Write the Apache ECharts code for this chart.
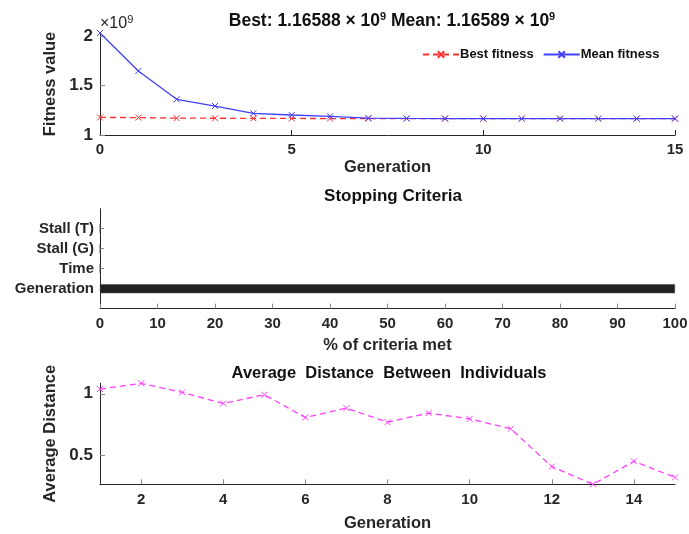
<!DOCTYPE html>
<html>
<head>
<meta charset="utf-8">
<script src="https://cdn.jsdelivr.net/npm/echarts@6/dist/echarts.min.js"></script>
<style>html,body{margin:0;padding:0;background:#fff;}#c{width:689px;height:534px;}</style>
</head>
<body>
<div id="c"></div>
<script>
// ---- data ----
// Top plot: fitness values in units of 1e9
const generations = [0,1,2,3,4,5,6,7,8,9,10,11,12,13,14,15];
const bestFitness = [1.178,1.177,1.171,1.170,1.169,1.168,1.167,1.166,1.166,1.166,1.16588,1.16588,1.16588,1.16588,1.16588,1.16588];
const meanFitness = [2.035,1.649,1.362,1.294,1.220,1.203,1.190,1.172,1.168,1.167,1.166,1.16589,1.16589,1.16589,1.16589,1.16589];
const topYTicks = [1, 1.5, 2];
// Middle plot
const criteria = ['', 'Generation', 'Time', 'Stall (G)', 'Stall (T)', ''];
const criteriaMet = [null, 100, 0, 0, 0, null];
// Bottom plot
const distGenerations = [1,2,3,4,5,6,7,8,9,10,11,12,13,14,15];
const avgDistance = [1.038,1.085,1.011,0.921,0.992,0.807,0.883,0.769,0.843,0.796,0.715,0.408,0.264,0.451,0.320];
const bottomXTicks = [2,4,6,8,10,12,14];
const bottomYTicks = [0.5, 1];

const FONT = 'Liberation Sans';
const AX = '#262626';
const xSym = 'path://M0,0L10,10M10,0L0,10';

function axisBase(extra){
  return Object.assign({
    axisLine:{show:true, lineStyle:{color:AX, width:1}},
    axisTick:{show:true, inside:true, length:5, lineStyle:{color:AX}},
    splitLine:{show:false},
    axisLabel:{color:'#262626', fontFamily:FONT, fontWeight:'bold', fontSize:15},
    nameTextStyle:{color:'#262626', fontFamily:FONT, fontWeight:'bold', fontSize:16.5}
  }, extra);
}
function lbl(extra){ return Object.assign({color:'#262626', fontFamily:FONT, fontWeight:'bold', fontSize:15}, extra); }

const chart = echarts.init(document.getElementById('c'), null, {renderer:'canvas'});
const option = {
  animation:false,
  backgroundColor:'#fff',
  title:[
    {text:'{b|Best: 1.16588 × 10}{s|9}{b| Mean: 1.16589 × 10}{s|9}', left:387, top:6, textAlign:'center',
     textStyle:{rich:{b:{fontFamily:FONT,fontWeight:'bold',fontSize:17.5,color:'#111'}, s:{fontFamily:FONT,fontWeight:'bold',fontSize:11,color:'#111',verticalAlign:'top',padding:[0,0,9,0]}}}},
    {text:'Stopping Criteria', left:388, top:183, textAlign:'center', textStyle:{fontFamily:FONT,fontWeight:'bold',fontSize:17,color:'#111'}},
    {text:'Average  Distance  Between  Individuals', left:384, top:360, textAlign:'center', textStyle:{fontFamily:FONT,fontWeight:'bold',fontSize:16.5,color:'#111'}}
  ],
  graphic:[
    {type:'text', left:100, top:14, style:{text:'{a|×10}{s|9}', rich:{a:{fontFamily:FONT,fontSize:16,fill:'#262626'}, s:{fontFamily:FONT,fontSize:11,fill:'#262626',verticalAlign:'top',padding:[0,0,9,0]}}}}
  ],
  legend:{
    data:['Best fitness','Mean fitness'], left:417, top:43, itemWidth:36, itemHeight:8, itemGap:9,
    textStyle:{fontFamily:FONT, fontWeight:'bold', fontSize:13, color:'#111', padding:[0,0,0,-4]}
  },
  grid:[
    {left:100, top:33, width:575, height:102, outerBoundsMode:'none', containLabel:false},
    {left:100, top:208.7, width:575, height:100, outerBoundsMode:'none', containLabel:false},
    {left:100, top:383.3, width:575, height:101, outerBoundsMode:'none', containLabel:false}
  ],
  xAxis:[
    axisBase({gridIndex:0, type:'value', min:0, max:15, interval:5, name:'Generation', nameLocation:'middle', nameGap:24,
      axisLabel:lbl({margin:7})}),
    axisBase({gridIndex:1, type:'value', min:0, max:100, interval:10, name:'% of criteria met', nameLocation:'middle', nameGap:28,
      axisLabel:lbl({margin:8}),
      axisTick:{show:true, inside:true, length:5, lineStyle:{color:'#888'}}}),
    axisBase({gridIndex:2, type:'value', min:1, max:15, name:'Generation', nameLocation:'middle', nameGap:31,
      axisLabel:lbl({margin:8, customValues:bottomXTicks}),
      axisTick:{show:true, inside:true, length:5, lineStyle:{color:'#888'}, customValues:bottomXTicks}})
  ],
  yAxis:[
    axisBase({gridIndex:0, type:'value', min:1, max:2.035, name:'Fitness value', nameLocation:'middle', nameGap:33,
      axisLabel:lbl({fontSize:17, margin:7, customValues:topYTicks}),
      axisTick:{show:true, inside:true, length:5, lineStyle:{color:'#888'}, customValues:topYTicks}}),
    axisBase({gridIndex:1, type:'category', data:criteria, boundaryGap:false,
      axisLabel:lbl({fontSize:15, margin:6, interval:0}),
      axisTick:{show:true, inside:true, length:4, lineStyle:{color:'#888'}, interval:function(i){return i>=1 && i<=4;}}}),
    axisBase({gridIndex:2, type:'value', min:0.264, max:1.085, name:'Average Distance', nameLocation:'middle', nameGap:34,
      axisLabel:lbl({fontSize:17, margin:7, customValues:bottomYTicks}),
      axisTick:{show:true, inside:true, length:5, lineStyle:{color:'#888'}, customValues:bottomYTicks}})
  ],
  series:[
    {name:'Best fitness', type:'line', xAxisIndex:0, yAxisIndex:0, data:generations.map((g,i)=>[g,bestFitness[i]]),
     lineStyle:{color:'#ff3030', width:1.3, type:[6,4]}, symbol:xSym, symbolSize:6,
     itemStyle:{color:'rgba(0,0,0,0)', borderColor:'#ff3030', borderWidth:1}, z:2},
    {name:'Mean fitness', type:'line', xAxisIndex:0, yAxisIndex:0, data:generations.map((g,i)=>[g,meanFitness[i]]),
     lineStyle:{color:'#4040ff', width:1.3}, symbol:xSym, symbolSize:6,
     itemStyle:{color:'rgba(0,0,0,0)', borderColor:'#4040ff', borderWidth:1}, z:3},
    {name:'criteria', type:'bar', xAxisIndex:1, yAxisIndex:1, data:criteriaMet, barWidth:9,
     itemStyle:{color:'#222', borderColor:'#444', borderWidth:0.5}},
    {name:'distance', type:'line', xAxisIndex:2, yAxisIndex:2, data:distGenerations.map((g,i)=>[g,avgDistance[i]]),
     lineStyle:{color:'#ff40ff', width:1.3, type:[6,4]}, symbol:xSym, symbolSize:6,
     itemStyle:{color:'rgba(0,0,0,0)', borderColor:'#ff40ff', borderWidth:1}}
  ]
};
chart.setOption(option);
</script>
</body>
</html>
